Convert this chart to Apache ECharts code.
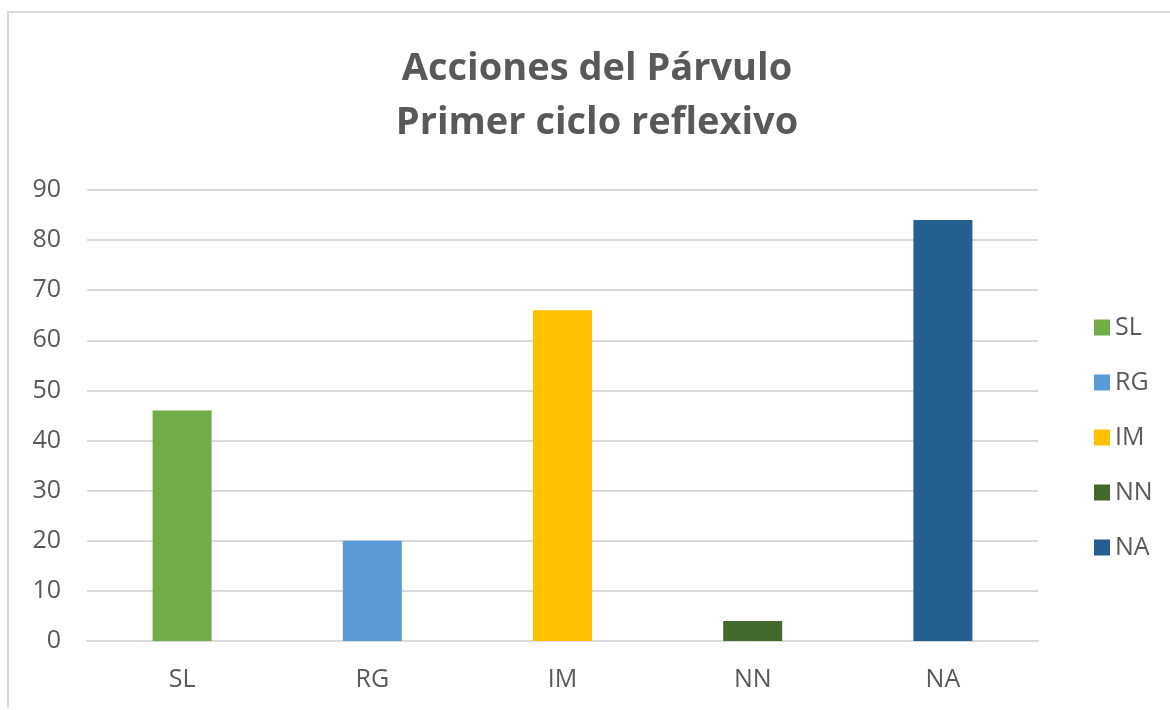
<!DOCTYPE html>
<html>
<head>
<meta charset="utf-8">
<script src="https://cdn.jsdelivr.net/npm/echarts@6/dist/echarts.min.js"></script>
<style>
html,body{margin:0;padding:0;background:#fff;}
#c{width:1170px;height:710px;}
</style>
</head>
<body>
<div id="c"></div>
<script>
const categories = ['SL', 'RG', 'IM', 'NN', 'NA'];
const values = [46, 20, 66, 4, 84];
const colors = ['#70AD47', '#5B9BD5', '#FFC000', '#43682B', '#255E91'];
const yTicks = { min: 0, max: 90, interval: 10 };
const titleLines = ['Acciones del Párvulo', 'Primer ciclo reflexivo'];

const chart = echarts.init(document.getElementById('c'));
const series = categories.map((name, i) => ({
  name: name,
  type: 'bar',
  stack: 'all',
  barWidth: 59,
  itemStyle: { color: colors[i] },
  data: categories.map((c, j) => (j === i ? values[i] : null))
}));

chart.setOption({
  animation: false,
  textStyle: { fontFamily: 'Open Sans' },
  title: {
    text: titleLines.join('\n'),
    left: 592,
    textAlign: 'center',
    top: 37,
    textStyle: { fontFamily: 'Open Sans', fontWeight: 'bold', fontSize: 38, color: '#595959', lineHeight: 54 }
  },
  graphic: [
    { type: 'line', shape: { x1: 7, y1: 12, x2: 1170, y2: 12 }, style: { stroke: '#d9d9d9', lineWidth: 2 } },
    { type: 'line', shape: { x1: 8, y1: 12, x2: 8, y2: 708 }, style: { stroke: '#d9d9d9', lineWidth: 2 } }
  ],
  legend: {
    orient: 'vertical',
    left: 1089,
    top: 310,
    itemWidth: 16,
    itemHeight: 16,
    itemGap: 30,
    icon: 'rect',
    textStyle: { fontSize: 25, color: '#595959', fontFamily: 'Open Sans' },
    data: categories
  },
  grid: { left: 87, top: 190, width: 951, height: 451, containLabel: false },
  xAxis: {
    type: 'category',
    data: categories,
    axisLine: { show: true, lineStyle: { color: '#d9d9d9', width: 2 } },
    axisTick: { show: false },
    axisLabel: { fontSize: 25, color: '#595959', margin: 26 }
  },
  yAxis: {
    type: 'value',
    min: yTicks.min,
    max: yTicks.max,
    interval: yTicks.interval,
    axisLine: { show: false },
    axisTick: { show: false },
    splitLine: { lineStyle: { color: '#d9d9d9', width: 2 } },
    axisLabel: { fontSize: 25, color: '#595959', margin: 26 }
  },
  series: series
});
</script>
</body>
</html>
